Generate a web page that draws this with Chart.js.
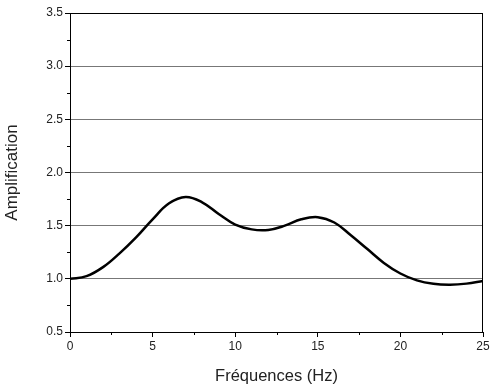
<!DOCTYPE html>
<html>
<head>
<meta charset="utf-8">
<script src="https://cdn.jsdelivr.net/npm/chart.js@4"></script>
<style>
    html, body { margin: 0; padding: 0; background: #fff; }
    #wrap { width: 493px; height: 390px; }
</style>
</head>
<body>
<div id="wrap"><canvas id="amp-chart" width="493" height="390"></canvas></div>
<script>
// Données
const frequencies = [0, 1, 2, 3, 4, 5, 6, 7, 8, 9, 10, 11, 12, 13, 14, 15, 16, 17, 18, 19, 20, 21, 22, 23, 24, 25];
const amplification = [1.00, 1.025, 1.11, 1.24, 1.39, 1.56, 1.71, 1.77, 1.72, 1.61, 1.51, 1.465, 1.46, 1.50, 1.56, 1.58, 1.53, 1.41, 1.28, 1.15, 1.05, 0.985, 0.953, 0.945, 0.955, 0.98];
const xTicks = [0, 5, 10, 15, 20, 25];
const yTicks = [0.5, 1.0, 1.5, 2.0, 2.5, 3.0, 3.5];
const xMinor = [2.5, 7.5, 12.5, 17.5, 22.5];
const yMinor = [0.75, 1.25, 1.75, 2.25, 2.75, 3.25];

const FONT = '"Liberation Sans", Arial, sans-serif';

// Cadre + petites graduations
const framePlugin = {
    id: 'frame',
    afterDraw(chart) {
        const { ctx, chartArea: a, scales } = chart;
        ctx.save();
        ctx.strokeStyle = '#000';
        ctx.lineWidth = 1;
        ctx.beginPath();
        ctx.moveTo(a.left, a.top + 0.5);
        ctx.lineTo(a.right, a.top + 0.5);
        ctx.moveTo(a.right - 0.5, a.top);
        ctx.lineTo(a.right - 0.5, a.bottom);
        xMinor.forEach(v => {
            const px = Math.round(scales.x.getPixelForValue(v)) + 0.5;
            ctx.moveTo(px, a.bottom);
            ctx.lineTo(px, a.bottom + 3);
        });
        yMinor.forEach(v => {
            const py = Math.round(scales.y.getPixelForValue(v)) + 0.5;
            ctx.moveTo(a.left, py);
            ctx.lineTo(a.left - 3, py);
        });
        ctx.stroke();
        ctx.restore();
    }
};

new Chart(document.getElementById('amp-chart'), {
    type: 'line',
    data: {
        datasets: [{
            data: frequencies.map((f, i) => ({ x: f, y: amplification[i] })),
            borderColor: '#000',
            borderWidth: 2.5,
            pointRadius: 0,
            fill: false,
            tension: 0.4
        }]
    },
    options: {
        responsive: false,
        animation: false,
        layout: { padding: { left: 0, right: 10, top: 13, bottom: 0 } },
        plugins: { legend: { display: false }, tooltip: { enabled: false } },
        scales: {
            x: {
                type: 'linear',
                min: 0,
                max: 25,
                afterBuildTicks: s => { s.ticks = xTicks.map(v => ({ value: v })); },
                afterFit: s => { s.height = 58; },
                grid: { drawOnChartArea: false, tickLength: 5, tickColor: '#000' },
                border: { color: '#000', width: 1 },
                ticks: { color: '#222', font: { family: FONT, size: 12 }, padding: 2, maxRotation: 0 },
                title: { display: true, text: 'Fréquences (Hz)', color: '#222', font: { family: FONT, size: 16.5 }, padding: { top: 3 } }
            },
            y: {
                min: 0.5,
                max: 3.5,
                afterBuildTicks: s => { s.ticks = yTicks.map(v => ({ value: v })); },
                afterFit: s => { s.width = 70; },
                grid: {
                    color: c => (c.tick && c.tick.value === 3.5 ? '#000' : '#777'),
                    tickColor: '#000',
                    tickLength: 5
                },
                border: { color: '#000', width: 1 },
                ticks: { color: '#222', font: { family: FONT, size: 12 }, padding: 2, callback: v => v.toFixed(1) },
                title: { display: true, text: 'Amplification', color: '#222', font: { family: FONT, size: 17 }, padding: { top: 2, bottom: 0 } }
            }
        }
    },
    plugins: [framePlugin]
});
</script>
</body>
</html>
